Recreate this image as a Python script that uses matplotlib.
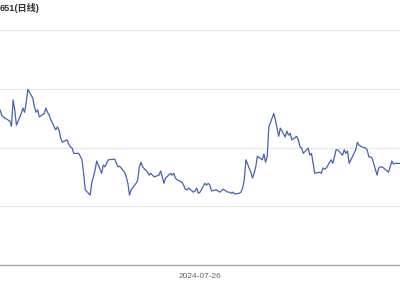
import matplotlib
matplotlib.use("Agg")
import matplotlib.pyplot as plt
import matplotlib.dates as mdates
import pandas as pd

plt.rcParams['font.family'] = ['Liberation Sans', 'Noto Sans CJK SC', 'DejaVu Sans']

# 日线收盘价 (按图中网格读数, 网格 10/20/30/40)
title = "651(日线)"
start_date = "2024-03-26"
tick_date = "2024-07-26"
prices = [
    26.4, 25.5, 25.2, 25.0, 24.5, 23.6, 28.1, 26.4, 23.8, 25.8, 26.7, 26.0, 27.7, 29.9, 28.4,
    26.9, 26.0, 26.4, 25.2, 25.8, 26.7, 26.0, 25.5, 24.7, 23.0, 23.5, 23.0, 21.6, 20.9, 21.3,
    20.5, 20.1, 19.9, 19.0, 19.0, 18.5, 17.9, 15.6, 12.8, 11.9, 14.1, 15.0, 16.2, 17.7, 15.6,
    17.0, 16.7, 17.3, 17.9, 18.0, 18.0, 17.3, 16.7, 16.8, 15.8, 15.0, 13.9, 11.9, 12.8, 13.9,
    14.5, 16.7, 17.5, 16.7, 15.8, 15.3, 15.6, 15.3, 15.0, 15.3, 16.0, 15.0, 13.9, 14.8, 15.6,
    15.3, 15.6, 14.8, 14.5, 14.1, 13.6, 12.9, 12.8, 13.1, 12.4, 12.6, 13.1, 12.2, 12.4, 13.9,
    13.6, 13.9, 13.6, 12.6, 12.8, 12.6, 12.4, 12.6, 12.9, 12.4, 12.4, 12.2, 12.4, 12.1, 12.2,
    12.4, 13.1, 14.5, 17.9, 15.8, 14.8, 15.6, 16.7, 18.5, 17.9, 18.9, 17.5, 18.5, 23.5, 25.8,
    24.7, 23.3, 21.9, 23.3, 21.8, 22.8, 22.1, 22.4, 21.3, 21.9, 21.3, 20.1, 19.9, 19.0, 19.9,
    18.7, 19.0, 17.3, 15.6, 15.8, 15.6, 16.5, 16.3, 16.5, 17.9, 17.3, 18.4, 19.6, 19.6, 18.7,
    19.6, 19.0, 19.4, 17.3, 19.0, 19.6, 20.9, 20.4, 20.2, 19.9, 19.6, 18.4, 18.4, 18.2, 15.3,
    16.5, 16.7, 16.7, 16.5, 15.8, 16.7, 17.7, 17.2, 17.3, 17.3,
]
grid_levels = [0, 10, 20, 30, 40]

dates = pd.bdate_range(start_date, periods=len(prices))

fig = plt.figure(figsize=(4, 3), dpi=100)
ax = fig.add_axes([0, 35 / 300, 1, 235 / 300])

ax.plot(dates, prices, color="#4564ad", linewidth=0.9)

ax.set_xlim(dates[0], dates[-1])
ax.set_ylim(grid_levels[0], grid_levels[-1])
ax.set_yticks(grid_levels)
ax.yaxis.grid(True, color="#e8e8e8", linewidth=0.8)
ax.tick_params(axis="y", left=False, labelleft=False)
ax.set_xticks([pd.Timestamp(tick_date)])
ax.xaxis.set_major_formatter(mdates.DateFormatter("%Y-%m-%d"))
ax.tick_params(axis="x", length=0, labelsize=6, colors="#666666", pad=6)

for side in ["top", "left", "right"]:
    ax.spines[side].set_visible(False)
ax.spines["bottom"].set_color("#aaaaaa")
ax.spines["bottom"].set_linewidth(1)

fig.text(0, 1 - 8 / 300, title, ha="left", va="center", fontsize=6.6,
         fontweight="bold", color="#333333")

fig.savefig("out.png", dpi=100)
